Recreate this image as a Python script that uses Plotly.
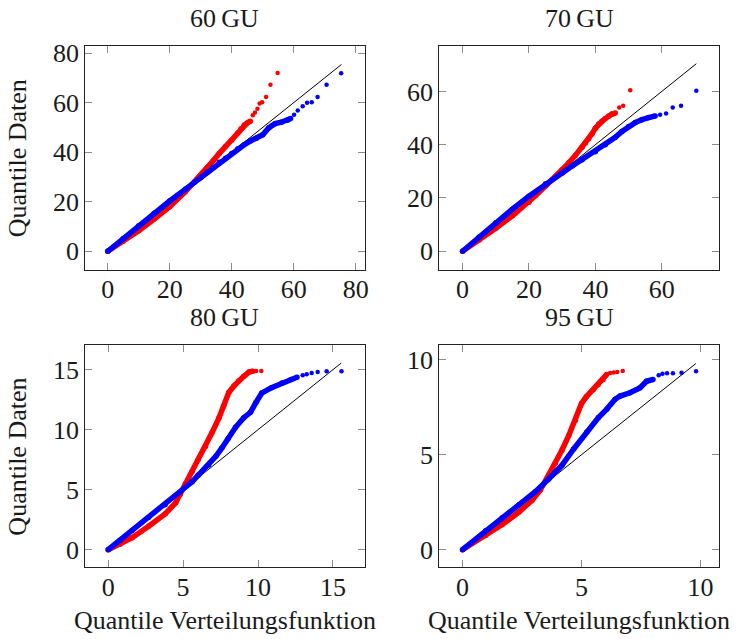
import plotly.graph_objects as go

# ---------------- data ----------------
titles = ["60\u2009GU", "70\u2009GU", "80\u2009GU", "95\u2009GU"]

# 60 GU
red60_x = [0, 5, 10, 15, 20, 25, 28, 30, 32, 34, 36, 38, 40, 42, 43, 44, 45, 46]
red60_y = [0, 4.1, 8.3, 13.0, 18.0, 24.0, 28.0, 30.8, 33.6, 36.5, 39.5, 42.3, 44.8, 47.8, 49.5, 51.0, 51.8, 52.5]
red60_tail_x = [46.8, 47.5, 48.3, 49.0, 49.8, 51.1, 52.5, 54.8]
red60_tail_y = [54.9, 56.0, 57.5, 59.6, 60.1, 62.3, 67.2, 72.0]
blue60_x = [0, 5, 10, 15, 20, 25, 28, 30, 32, 34, 36, 38, 40, 42, 44, 46, 48, 50, 52, 54, 56, 58, 59]
blue60_y = [0, 5.2, 10.3, 15.4, 20.3, 25.0, 27.9, 29.7, 31.8, 33.8, 35.9, 37.6, 39.5, 41.4, 43.0, 44.5, 45.6, 47.0, 49.9, 51.5, 52.1, 52.9, 53.6]
blue60_tail_x = [60.1, 61.3, 62.9, 64.3, 65.8, 67.7, 70.6, 75.3]
blue60_tail_y = [55.1, 56.8, 58.5, 59.9, 60.1, 62.3, 67.2, 71.9]
diag60 = [0, 75.4]

# 70 GU
red70_x = [0, 5, 10, 15, 20, 22, 25, 28, 30, 32, 34, 36, 37, 38, 39, 40, 41, 42, 43, 44, 45, 46]
red70_y = [0, 4.2, 8.6, 13.3, 18.4, 20.9, 24.5, 28.0, 30.6, 33.2, 36.0, 39.0, 40.6, 42.2, 44.1, 46.2, 47.8, 48.8, 49.8, 50.8, 51.5, 51.9]
red70_tail_x = [47.2, 48.4, 50.5]
red70_tail_y = [54.0, 54.6, 60.4]
blue70_x = [0, 5, 10, 15, 20, 25, 30, 33, 36, 40, 43, 46, 48, 50, 52, 54, 56, 58]
blue70_y = [0, 5.4, 10.7, 15.8, 20.7, 25.3, 29.4, 32.0, 34.4, 37.4, 40.0, 42.8, 45.0, 46.8, 48.3, 49.4, 50.2, 50.8]
blue70_tail_x = [59.5, 61.3, 63.3, 65.8, 70.4]
blue70_tail_y = [51.2, 51.7, 54.0, 54.6, 60.3]
diag70 = [0, 70.4]

# 80 GU
red80_x = [0, 0.8, 1.6, 2.7, 3.8, 4.5, 4.8, 5.15, 5.6, 6.0, 6.5, 6.95, 7.4, 7.7, 8.05, 8.4, 8.7, 9.05, 9.4, 9.65]
red80_y = [0, 0.45, 1.0, 1.95, 2.98, 3.9, 4.6, 5.5, 6.5, 7.5, 8.6, 9.8, 11.0, 11.95, 13.1, 13.65, 14.05, 14.45, 14.8, 14.88]
red80_tail_x = [9.87, 10.22]
red80_tail_y = [14.89, 14.89]
blue80_x = [0, 0.8, 1.6, 2.7, 3.8, 4.8, 5.6, 6.0, 6.7, 7.2, 7.6, 8.0, 8.5, 9.05, 9.5, 9.85, 10.25, 10.9, 11.6, 12.2, 12.6]
blue80_y = [0, 0.8, 1.6, 2.68, 3.75, 4.78, 5.66, 6.2, 7.05, 7.8, 8.5, 9.25, 10.2, 11.0, 11.45, 12.25, 13.05, 13.5, 13.9, 14.18, 14.37]
blue80_tail_x = [12.98, 13.25, 13.58, 13.98, 14.58, 15.57]
blue80_tail_y = [14.53, 14.62, 14.73, 14.81, 14.86, 14.86]
diag80 = [0, 15.55]

# 95 GU
red95_x = [0, 0.97, 1.67, 2.37, 2.92, 3.27, 3.62, 3.9, 4.18, 4.46, 4.74, 5.0, 5.2, 5.5, 5.7, 5.9, 6.05]
red95_y = [0, 0.74, 1.32, 1.98, 2.6, 3.14, 3.92, 4.55, 5.25, 6.0, 6.8, 7.7, 8.05, 8.44, 8.7, 8.95, 9.22]
red95_tail_x = [6.2, 6.35, 6.5, 6.73]
red95_tail_y = [9.3, 9.33, 9.36, 9.41]
blue95_x = [0, 0.97, 1.67, 2.37, 3.06, 3.62, 4.18, 4.67, 5.22, 5.71, 6.06, 6.41, 6.62, 7.03, 7.45, 7.73, 8.0]
blue95_y = [0, 0.99, 1.68, 2.36, 3.05, 3.72, 4.45, 5.3, 6.2, 6.96, 7.4, 7.92, 8.09, 8.26, 8.52, 8.87, 8.96]
blue95_tail_x = [8.24, 8.4, 8.59, 8.84, 9.2, 9.81]
blue95_tail_y = [9.18, 9.27, 9.29, 9.29, 9.32, 9.39]
diag95 = [0, 9.8]

ticks60 = [0, 20, 40, 60, 80]
ticks70 = [0, 20, 40, 60]
ticks80 = [0, 5, 10, 15]
ticks95 = [0, 5, 10]

x_title = "Quantile Verteilungsfunktion"
y_title = "Quantile Daten"

# ---------------- figure ----------------
W, H = 741, 639
FONT = "Liberation Serif"
TXT = "#1a1a1a"
RED, BLUE = "#ff0000", "#0000ff"

panels = [
    dict(red=(red60_x, red60_y, red60_tail_x, red60_tail_y),
         blue=(blue60_x, blue60_y, blue60_tail_x, blue60_tail_y),
         diag=diag60, ticks=ticks60, xr=[-7.25, 82.9], yr=[-7.46, 82.9],
         px=(85.7, 366.7), py=(39.3, 265.7)),
    dict(red=(red70_x, red70_y, red70_tail_x, red70_tail_y),
         blue=(blue70_x, blue70_y, blue70_tail_x, blue70_tail_y),
         diag=diag70, ticks=ticks70, xr=[-7.0, 77.35], yr=[-6.95, 77.1],
         px=(441.7, 723.3), py=(39.3, 265.7)),
    dict(red=(red80_x, red80_y, red80_tail_x, red80_tail_y),
         blue=(blue80_x, blue80_y, blue80_tail_x, blue80_tail_y),
         diag=diag80, ticks=ticks80, xr=[-1.53, 17.12], yr=[-1.48, 17.06],
         px=(85.7, 366.7), py=(341.7, 566.7)),
    dict(red=(red95_x, red95_y, red95_tail_x, red95_tail_y),
         blue=(blue95_x, blue95_y, blue95_tail_x, blue95_tail_y),
         diag=diag95, ticks=ticks95, xr=[-0.974, 10.79], yr=[-0.94, 10.78],
         px=(441.7, 723.3), py=(341.7, 566.7)),
]

fig = go.Figure()
layout = {}
annotations = []

axis_common = dict(
    showline=True, linecolor="#222", linewidth=1, mirror="ticks",
    ticks="inside", ticklen=7, tickwidth=1, tickcolor="#8c8c8c",
    showgrid=False, zeroline=False,
    tickfont=dict(family=FONT, size=26, color=TXT),
)

BAND = 5.5
for i, p in enumerate(panels):
    n = "" if i == 0 else str(i + 1)
    xa, ya = "x" + n, "y" + n
    fig.add_trace(go.Scatter(x=p["diag"], y=p["diag"], mode="lines",
                             line=dict(color="black", width=1),
                             xaxis=xa, yaxis=ya, showlegend=False, hoverinfo="skip"))
    for key, col in (("red", RED), ("blue", BLUE)):
        bx, by, tx, ty = p[key]
        fig.add_trace(go.Scatter(x=bx, y=by, mode="lines+markers",
                                 line=dict(color=col, width=BAND),
                                 marker=dict(color=col, size=BAND),
                                 xaxis=xa, yaxis=ya, showlegend=False))
        fig.add_trace(go.Scatter(x=tx, y=ty, mode="markers",
                                 marker=dict(color=col, size=4.5),
                                 xaxis=xa, yaxis=ya, showlegend=False))
    x0, x1 = p["px"]
    y0, y1 = p["py"]
    layout["xaxis" + n] = dict(axis_common, domain=[x0 / W, x1 / W], range=p["xr"],
                               tickvals=p["ticks"], anchor=ya, ticklabelstandoff=-4)
    layout["yaxis" + n] = dict(axis_common, domain=[1 - y1 / H, 1 - y0 / H], range=p["yr"],
                               tickvals=p["ticks"], anchor=xa)
    cx = (x0 + x1) / 2
    annotations.append(dict(text=titles[i], x=cx / W, y=1 - (y0 - 28) / H,
                            xref="paper", yref="paper", xanchor="center", yanchor="middle",
                            showarrow=False, font=dict(family=FONT, size=26, color=TXT)))
    if i % 2 == 0:
        annotations.append(dict(text=y_title, x=17.5 / W, y=1 - ((y0 + y1) / 2) / H,
                                xref="paper", yref="paper", xanchor="center", yanchor="middle",
                                textangle=-90, showarrow=False,
                                font=dict(family=FONT, size=26, color=TXT)))
    if i >= 2:
        annotations.append(dict(text=x_title, x=cx / W, y=1 - 620 / H,
                                xref="paper", yref="paper", xanchor="center", yanchor="middle",
                                showarrow=False, font=dict(family=FONT, size=26, color=TXT)))

fig.update_layout(
    width=W, height=H, margin=dict(l=0, r=0, t=0, b=0),
    paper_bgcolor="white", plot_bgcolor="white",
    font=dict(family=FONT, size=26, color=TXT),
    annotations=annotations, **layout,
)

fig.write_html("out.html")
